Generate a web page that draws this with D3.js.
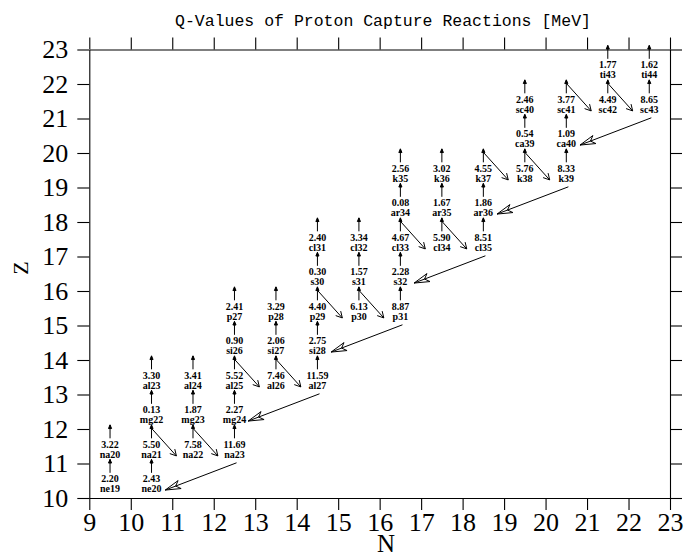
<!DOCTYPE html>
<html>
<head>
<meta charset="utf-8">
<script src="https://cdn.jsdelivr.net/npm/d3@7"></script>
<style>
  body { margin: 0; background: #fff; }
  svg { display: block; }
</style>
</head>
<body>
<div id="chart"></div>
<script>
// nuclides shown on the chart (name, N, Z, Q-value of (p,g) in MeV)
var nuclides = ["ne19","ne20","na20","na21","na22","na23","mg22","mg23","mg24",
    "al23","al24","al25","al26","al27","si26","si27","si28",
    "p27","p28","p29","p30","p31","s30","s31","s32",
    "cl31","cl32","cl33","cl34","cl35","ar34","ar35","ar36",
    "k35","k36","k37","k38","k39","ca39","ca40",
    "sc40","sc41","sc42","sc43","ti43","ti44"];
var neutronN = [9,10,9,10,11,12,10,11,12,
    10,11,12,13,14,12,13,14,
    12,13,14,15,16,14,15,16,
    14,15,16,17,18,16,17,18,
    16,17,18,19,20,19,20,
    19,20,21,22,21,22];
var protonZ = [10,10,11,11,11,11,12,12,12,
    13,13,13,13,13,14,14,14,
    15,15,15,15,15,16,16,16,
    17,17,17,17,17,18,18,18,
    19,19,19,19,19,20,20,
    21,21,21,21,22,22];
var qValue = [2.20,2.43,3.22,5.50,7.58,11.69,0.13,1.87,2.27,
    3.30,3.41,5.52,7.46,11.59,0.90,2.06,2.75,
    2.41,3.29,4.40,6.13,8.87,0.30,1.57,2.28,
    2.40,3.34,4.67,5.90,8.51,0.08,1.67,1.86,
    2.56,3.02,4.55,5.76,8.33,0.54,1.09,
    2.46,3.77,4.49,8.65,1.77,1.62];

// beta+ decays (N, Z of the parent)
var betaN = [10,11,12,13,14,15,16,17,18,19,20,21];
var betaZ = [12,12,14,14,16,16,18,18,20,20,22,22];

// (p,a) reactions (N, Z of the target)
var paN = [12,14,16,18,20,22];
var paZ = [11,13,15,17,19,21];

var nTicks = d3.range(9, 24);
var zTicks = d3.range(10, 24);

var width = 691, height = 558;

var x = d3.scaleLinear().domain([9, 23]).range([89.3, 670]);
var y = d3.scaleLinear().domain([10, 23]).range([498, 49.5]);

var svg = d3.select('#chart')
    .append('svg')
    .attr('width', width)
    .attr('height', height);

// axes, ticks outward on all four sides
function styleAxis(g, labels) {
    g.selectAll('path').attr('stroke', '#000').attr('stroke-width', 1.1);
    g.selectAll('line').attr('stroke', '#000').attr('stroke-width', 1.1);
    g.selectAll('text')
        .attr('fill', '#000')
        .style('font-family', '"Liberation Serif", "DejaVu Serif", serif')
        .style('font-size', '26px');
    if (!labels) g.selectAll('text').remove();
}

svg.append('g')
    .attr('transform', 'translate(0,' + y(10) + ')')
    .call(d3.axisBottom(x).tickValues(nTicks).tickSize(12).tickSizeOuter(0).tickPadding(3))
    .call(styleAxis, true);

svg.append('g')
    .attr('transform', 'translate(0,' + y(23) + ')')
    .call(d3.axisTop(x).tickValues(nTicks).tickSize(12).tickSizeOuter(0))
    .call(styleAxis, false);

svg.append('g')
    .attr('transform', 'translate(' + x(9) + ',0)')
    .call(d3.axisLeft(y).tickValues(zTicks).tickSize(12).tickSizeOuter(0).tickPadding(9))
    .call(styleAxis, true);

svg.append('g')
    .attr('transform', 'translate(' + x(23) + ',0)')
    .call(d3.axisRight(y).tickValues(zTicks).tickSize(12).tickSizeOuter(0))
    .call(styleAxis, false);

svg.selectAll('.domain').attr('fill', 'none');

// titles
svg.append('text')
    .attr('x', 383)
    .attr('y', 26)
    .attr('text-anchor', 'middle')
    .style('font-family', '"Liberation Mono", "DejaVu Sans Mono", monospace')
    .style('font-size', '16.5px')
    .text('Q-Values of Proton Capture Reactions [MeV]');

svg.append('text')
    .attr('x', 386)
    .attr('y', 552)
    .attr('text-anchor', 'middle')
    .style('font-family', '"Liberation Serif", "DejaVu Serif", serif')
    .style('font-size', '25px')
    .text('N');

svg.append('text')
    .attr('transform', 'translate(28,268) rotate(-90)')
    .attr('text-anchor', 'middle')
    .style('font-family', '"Liberation Serif", "DejaVu Serif", serif')
    .style('font-size', '22px')
    .text('Z');

// arrows
var arrows = svg.append('g')
    .attr('stroke', '#000')
    .attr('stroke-width', 1)
    .attr('fill', 'none');

function drawArrow(x1, y1, x2, y2, len, half, kind) {
    arrows.append('line')
        .attr('x1', x1).attr('y1', y1)
        .attr('x2', x2).attr('y2', y2);
    var a = Math.atan2(y1 - y2, x1 - x2);
    var b1 = [x2 + len * Math.cos(a + half), y2 + len * Math.sin(a + half)];
    var b2 = [x2 + len * Math.cos(a - half), y2 + len * Math.sin(a - half)];
    if (kind === 'filled') {
        arrows.append('path')
            .attr('d', 'M' + x2 + ',' + y2 + 'L' + b1 + 'L' + b2 + 'Z')
            .attr('fill', '#000');
    } else if (kind === 'vent') {
        var v = [x2 + len * 0.7 * Math.cos(a), y2 + len * 0.7 * Math.sin(a)];
        arrows.append('path')
            .attr('d', 'M' + x2 + ',' + y2 + 'L' + b1 + 'L' + v + 'L' + b2 + 'Z');
    } else {
        arrows.append('path')
            .attr('d', 'M' + b1 + 'L' + x2 + ',' + y2 + 'L' + b2);
    }
}

// proton captures: straight up
nuclides.forEach(function(d, i) {
    var n = neutronN[i], z = protonZ[i];
    drawArrow(x(n + 0.5), y(z + 0.73), x(n + 0.5), y(z + 1.12), 4, 0.4, 'filled');
});

// beta+ decays: down to the right
betaN.forEach(function(n, i) {
    var z = betaZ[i];
    drawArrow(x(n + 0.5), y(z + 0.02), x(n + 1.1), y(z - 0.78), 7, 0.5, 'open');
});

// (p,a): long arrow back to N-2, Z-1
paN.forEach(function(n, i) {
    var z = paZ[i];
    drawArrow(x(n + 0.55), y(z + 0.02), x(n - 2 + 0.83), y(z - 1 + 0.23), 16, 0.27, 'vent');
});

// labels
var fmt = d3.format('.2f');
var labels = svg.append('g')
    .attr('text-anchor', 'middle')
    .style('font-family', '"Liberation Serif", "DejaVu Serif", serif')
    .style('font-size', '10px')
    .style('font-weight', 'bold');

labels.selectAll('text.q')
    .data(nuclides)
    .enter()
    .append('text')
    .attr('class', 'q')
    .attr('x', function(d, i) { return x(neutronN[i] + 0.5); })
    .attr('y', function(d, i) { return y(protonZ[i] + 0.565); })
    .attr('dy', '0.36em')
    .text(function(d, i) { return fmt(qValue[i]); });

labels.selectAll('text.name')
    .data(nuclides)
    .enter()
    .append('text')
    .attr('class', 'name')
    .attr('x', function(d, i) { return x(neutronN[i] + 0.5); })
    .attr('y', function(d, i) { return y(protonZ[i] + 0.275); })
    .attr('dy', '0.36em')
    .text(function(d) { return d; });
</script>
</body>
</html>
